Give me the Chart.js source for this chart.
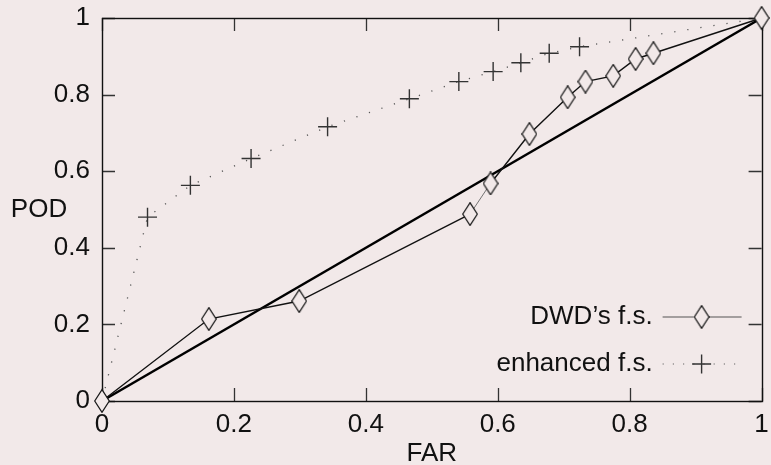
<!DOCTYPE html>
<html><head><meta charset="utf-8">
<script src="https://cdn.jsdelivr.net/npm/chart.js@4.4.1/dist/chart.umd.min.js"></script>
<style>html,body{margin:0;padding:0;background:#f2e9e9;overflow:hidden}</style>
</head><body>
<canvas id="c" width="771" height="465"></canvas>
<script>
// ---- data ----
const dwdFar = [0, 0.162, 0.299, 0.558, 0.589, 0.648, 0.706, 0.733, 0.775, 0.809, 0.836, 1];
const dwdPod = [0, 0.214, 0.261, 0.488, 0.568, 0.697, 0.793, 0.834, 0.849, 0.893, 0.908, 1];
const enhFar = [0, 0.069, 0.134, 0.226, 0.342, 0.466, 0.541, 0.593, 0.635, 0.678, 0.724, 1];
const enhPod = [0, 0.480, 0.563, 0.633, 0.716, 0.789, 0.834, 0.860, 0.883, 0.908, 0.925, 1];
const refFar = [0, 1];
const refPod = [0, 1];
const tickValues = [0, 0.2, 0.4, 0.6, 0.8, 1];
const tickLabels = ["0", "0.2", "0.4", "0.6", "0.8", "1"];
const seriesNames = ["DWD\u2019s f.s.", "enhanced f.s."];
const xTitle = "FAR";
const yTitle = "POD";

// ---- styles ----
const BG = '#f2e9e9';
const FONT = '"Liberation Sans", Arial, sans-serif';
const FS = 26;
const INK = '#111';

function makeDiamond(w, h) {
  const c = document.createElement('canvas');
  c.width = w; c.height = h;
  const g = c.getContext('2d');
  g.beginPath();
  g.moveTo(w / 2, 0.7); g.lineTo(w - 0.7, h / 2); g.lineTo(w / 2, h - 0.7); g.lineTo(0.7, h / 2); g.closePath();
  g.fillStyle = BG; g.fill();
  g.lineWidth = 1.3; g.strokeStyle = '#1a1a1a'; g.stroke();
  return c;
}
const diamond = makeDiamond(16, 24);

const zip = (xs, ys) => xs.map((x, i) => ({x, y: ys[i]}));
const labelFor = v => { const i = tickValues.findIndex(t => Math.abs(t - v) < 1e-9); return i >= 0 ? tickLabels[i] : ''; };

const decor = {
  id: 'decor',
  beforeDraw(chart) {
    const ctx = chart.ctx;
    ctx.save(); ctx.fillStyle = BG; ctx.fillRect(0, 0, chart.width, chart.height); ctx.restore();
  },
  beforeDatasetsDraw(chart) {
    const {ctx, chartArea: a, scales: {x, y}} = chart;
    ctx.save();
    ctx.strokeStyle = '#333'; ctx.lineWidth = 1.3;
    const TL = 13;
    ctx.beginPath();
    x.ticks.forEach(t => {
      const px = Math.round(x.getPixelForValue(t.value)) + 0.5;
      ctx.moveTo(px, a.bottom); ctx.lineTo(px, a.bottom - TL);
      ctx.moveTo(px, a.top); ctx.lineTo(px, a.top + TL);
    });
    y.ticks.forEach(t => {
      const py = Math.round(y.getPixelForValue(t.value)) + 0.5;
      ctx.moveTo(a.left, py); ctx.lineTo(a.left + TL, py);
      ctx.moveTo(a.right, py); ctx.lineTo(a.right - TL, py);
    });
    ctx.stroke();
    ctx.strokeStyle = '#111'; ctx.lineWidth = 1.4;
    ctx.strokeRect(Math.round(a.left) + 0.5, Math.round(a.top) + 0.5, Math.round(a.right - a.left), Math.round(a.bottom - a.top));
    ctx.restore();
  },
  afterDraw(chart) {
    const {ctx, chartArea: a} = chart;
    ctx.save();
    ctx.fillStyle = INK; ctx.font = FS + 'px ' + FONT;
    ctx.textAlign = 'center'; ctx.textBaseline = 'middle';
    ctx.fillText(yTitle, 39, (a.top + a.bottom) / 2);
    // legend (inside plot, bottom-right)
    const ends = a.right - 20, starts = a.right - 99, mx = a.right - 60, tx = a.right - 109;
    const rows = [a.bottom - 84, a.bottom - 37];
    ctx.textAlign = 'right';
    rows.forEach((ry, i) => { ctx.fillStyle = INK; ctx.fillText(seriesNames[i], tx, ry); });
    ctx.strokeStyle = '#555'; ctx.lineWidth = 1.2;
    ctx.beginPath(); ctx.moveTo(starts, rows[0]); ctx.lineTo(ends, rows[0]); ctx.stroke();
    Chart.helpers.drawPoint(ctx, {pointStyle: diamond, radius: 8, rotation: 0, borderWidth: 1}, mx, rows[0]);
    ctx.setLineDash([1.2, 9]); ctx.strokeStyle = '#666'; ctx.lineWidth = 1.2;
    ctx.beginPath(); ctx.moveTo(starts, rows[1]); ctx.lineTo(ends, rows[1]); ctx.stroke();
    ctx.setLineDash([]);
    ctx.strokeStyle = '#333'; ctx.lineWidth = 1.4;
    Chart.helpers.drawPoint(ctx, {pointStyle: 'cross', radius: 9.5, rotation: 0, borderWidth: 1.4}, mx, rows[1]);
    ctx.restore();
  }
};

new Chart(document.getElementById('c'), {
  type: 'line',
  data: {
    datasets: [
      {
        label: seriesNames[0],
        data: zip(dwdFar, dwdPod),
        clip: false,
        borderColor: '#111', borderWidth: 1.4,
        pointStyle: diamond, pointRadius: 8,
        segment: {
          borderColor: c => c.p0DataIndex === 3 ? '#666' : undefined,
          borderWidth: c => c.p0DataIndex === 3 ? 0.9 : undefined
        }
      },
      {
        label: seriesNames[1],
        data: zip(enhFar, enhPod),
        clip: false,
        borderColor: '#555', borderWidth: 1.3, borderDash: [1.2, 12],
        pointStyle: 'cross',
        pointRadius: c => (c.raw && (c.raw.x === 0 || c.raw.x === 1)) ? 0 : 9.5,
        pointBorderColor: '#333', pointBorderWidth: 1.4
      },
      {
        label: 'reference',
        data: zip(refFar, refPod),
        clip: false,
        borderColor: '#000', borderWidth: 2.6, pointRadius: 0
      }
    ]
  },
  options: {
    responsive: false,
    animation: false,
    events: [],
    layout: {padding: {top: 18, right: 6, left: 0, bottom: 0}},
    plugins: {legend: {display: false}, tooltip: {enabled: false}},
    elements: {line: {tension: 0}},
    scales: {
      x: {
        type: 'linear', min: 0, max: 1,
        afterBuildTicks: s => { s.ticks = tickValues.map(v => ({value: v})); },
        afterFit: s => { s.height = 64; s.paddingLeft = 0; s.paddingRight = 0; },
        grid: {display: false, drawTicks: false},
        border: {display: false},
        ticks: {padding: 8, color: INK, font: {family: FONT, size: FS}, maxRotation: 0, autoSkip: false, callback: labelFor},
        title: {display: true, text: xTitle, color: INK, font: {family: FONT, size: FS, lineHeight: 1}, padding: {top: 0, bottom: -2}}
      },
      y: {
        type: 'linear', min: 0, max: 1,
        afterBuildTicks: s => { s.ticks = tickValues.map(v => ({value: v})); },
        afterFit: s => { s.width = 102; s.paddingTop = 0; s.paddingBottom = 0; },
        grid: {display: false, drawTicks: false},
        border: {display: false},
        ticks: {padding: 12, color: INK, font: {family: FONT, size: FS}, autoSkip: false, callback: labelFor}
      }
    }
  },
  plugins: [decor]
});
</script>
</body></html>
